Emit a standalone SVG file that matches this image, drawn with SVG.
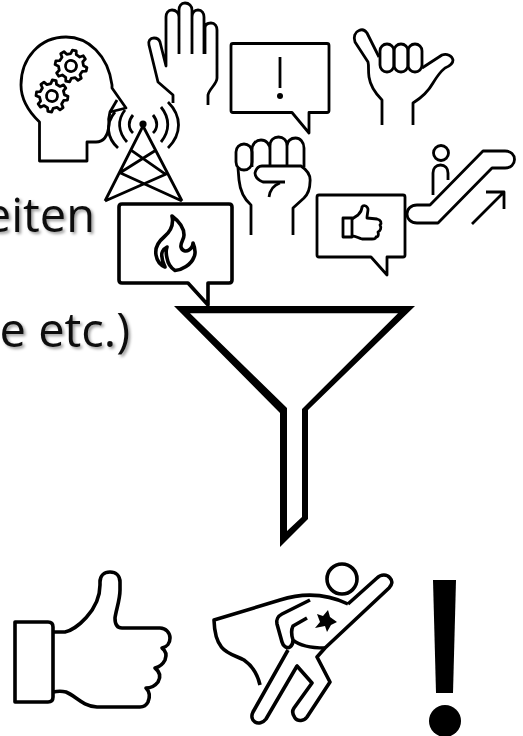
<svg xmlns="http://www.w3.org/2000/svg" width="523" height="736" viewBox="0 0 523 736">
<style>
.l{fill:none;stroke:#000;stroke-width:2.8;stroke-linejoin:round;stroke-linecap:butt}
.m{fill:none;stroke:#000;stroke-width:3.6;stroke-linejoin:round;stroke-linecap:butt}
.t{font-family:"Open Sans","Noto Sans",sans-serif;font-size:47px;fill:#111;text-anchor:end;filter:url(#sh)}
</style>
<defs>
<filter id="sh" x="-10%" y="-20%" width="125%" height="150%"><feDropShadow dx="2" dy="2" stdDeviation="1.4" flood-color="#000" flood-opacity=".4"/></filter>
<path id="gear" d="M15.88,-1.95L15.88,1.95L12.18,2.81L10.6,6.62L12.6,9.85L9.85,12.6L6.62,10.6L2.81,12.18L1.95,15.88L-1.95,15.88L-2.81,12.18L-6.62,10.6L-9.85,12.6L-12.6,9.85L-10.6,6.62L-12.18,2.81L-15.88,1.95L-15.88,-1.95L-12.18,-2.81L-10.6,-6.62L-12.6,-9.85L-9.85,-12.6L-6.62,-10.6L-2.81,-12.18L-1.95,-15.88L1.95,-15.88L2.81,-12.18L6.62,-10.6L9.85,-12.6L12.6,-9.85L10.6,-6.62L12.18,-2.81Z M5.5,0A5.5,5.5 0 1 0 -5.5,0A5.5,5.5 0 1 0 5.5,0Z"/>
</defs>
<g id="text">
<text class="t" x="95" y="232">eiten</text>
<text class="t" x="130" y="347">e etc.)</text>
</g>
<g id="head" class="l">
<path d="M39.5,122L39.5,161L87,161L87,142L96,142C104,142 108,135 109,125C108,119 110,112 110,112L126,108L112,88L112,85C108,55 88,37 66,37C40,37 21,58 21,85C21,100 29,112 39.5,122Z"/>
<path d="M117,100L110,112"/>
<use href="#gear" x="71" y="66" transform="rotate(12 71 66)"/>
<use href="#gear" x="52" y="96" transform="rotate(8 52 96)"/>
</g>
<g id="raised-hand" class="l">
<path d="M208,105L208,95C209,89 217,84 217,78L217,30C217,26 215,23 211,23C207,23 205,25 205,28L205,54M204,54L204,17C204,13 202,10 198,10C194,10 192,13 192,17L192,54M192,54L192,10C192,6 189,3 185,3C181,3 179,6 179,10L179,54M179,54L179,17C179,13 176,10 172,10C168,10 166,13 166,17L166,66L160,42C159,39 157,38 154,38C150,38 148,41 149,45L158,82L173,95L173,103"/>
</g>
<g id="tower">
<circle cx="143" cy="124" r="3.6" fill="#000"/>
<path class="l" d="M143,126L105,201M143,126L182,201M131.7,150.7L165.7,174.3L105,201M155,150.7L120,172.7L182,201"/>
<path class="l" d="M133,115C128,121 128,128 133,133M153,115C158,121 158,128 153,133M125,110C117,120 118,132 127,142M161,107C170,118 170,131 161,142M115,112C105,124 107,138 118,148M168,102C182,116 182,134 168,148"/>
</g>
<g id="bubble-alert">
<path class="l" d="M233,43.5L327,43.5Q329,43.5 329,45.5L329,110.5Q329,112.5 327,112.5L309,112.5L309,133L292,112.5L233,112.5Q231,112.5 231,110.5L231,45.5Q231,43.5 233,43.5Z"/>
<path class="l" d="M280,57L280,88"/>
<circle cx="280" cy="96" r="3" fill="#000"/>
</g>
<g id="shaka-hand" class="l">
<path d="M382,125L382,100C374,92 370,84 369,77C368,70 369,66 368,62L355,42C353,37 355,32 359,30.5C362,29 365,30 367,33L379,57"/>
<rect x="380" y="44" width="14" height="28" rx="7"/>
<rect x="394" y="44" width="14" height="28" rx="7"/>
<rect x="408" y="44" width="14" height="28" rx="7"/>
<path d="M422,68L442,55C447,53 452,56 453,60C453,64 450,66 445,68C440,72 436,78 433,83C428,92 421,98 413,103L413,125"/>
</g>
<g id="fist" class="l">
<path d="M251,235L251,205C244,199 240,190 239,180L238,168"/>
<rect x="236" y="144" width="16" height="26" rx="8"/>
<path d="M252,167L252,150C252,144 256,140 261,140C266,140 270,144 270,150L270,166M270,166L270,146C270,140 274,137 278.5,137C283,137 287,140 287,146L287,165M287,165L287,146C287,141 291,138 295.5,138C300,138 304,142 304,148L304,167"/>
<path d="M285,182L263,182C258,180 255,177 255,173C256,169 258,166 262,166L301,166C307,170 311,175 310,182C310,188 308,194 304,198L293,208L293,235"/>
<path d="M280,183C274,185 270,190 269,197"/>
</g>
<g id="bubble-fire">
<path class="m" d="M122,204L229,204Q232,204 232,207L232,280Q232,283 229,283L208,283L208,305L188,283L122,283Q119,283 119,280L119,207Q119,204 122,204Z"/>
<path class="m" d="M172,216C180,222 184,229 184,235C184,240 180,243 181,247C182,251 186,252 189,250C192,248 193,246 193,243C195,248 196,253 194,257C191,265 182,270 175,270.5C171,268 168,264 167,258C166,254 166,250 167,247C163,249 161,253 162,257C162,261 164,264 165,267C160,265 157,261 156,255C155,249 158,242 164,237C170,232 174,225 172,216Z"/>
</g>
<g id="bubble-thumb">
<path class="l" d="M319,195L403,195Q405,195 405,197L405,255Q405,257 403,257L387,257L387,275L371,257L319,257Q317,257 317,255L317,197Q317,195 319,195Z"/>
<path class="l" d="M343,218L352,218L352,237L343,237Z"/>
<path class="l" d="M352,219L358,215C361,212 362,210 362,207C363,205 367,205 368,209C368,212 367,215 367,218L377,219C381,220 382,223 380,225C382,228 380,231 378,232C379,235 378,237 376,237C376,239 374,239 372,239L362,239C358,238 356,236 352,236"/>
</g>
<g id="escalator" class="l">
<path d="M430,205L483,151L505,151C511,151 514.5,155 514.5,159.5C514.5,164 511,168 505,168L492,168L438,223L417,223C411,223 407,219 407,214C407,209 411,205 417,205Z"/>
<circle cx="441" cy="153" r="7.5"/>
<path d="M433,195L433,173C433,168 436,165 440.5,165C445,165 448,168 448,173L448,180"/>
<path d="M472,224L504,192M486,192L504,192L504,209"/>
</g>
<path id="funnel" fill="#000" fill-rule="evenodd" d="M174,306L415,306L308,410L308,519L280,547L280,413Z M190,313.3L398,313.3L302,409L302,517L287,531L287,408Z"/>
<g id="thumbs-up" class="m">
<path d="M15,622L48,622Q53,622 53,627L53,697Q53,702 48,702L15,702Z"/>
<path d="M53,632L65,632C75,630 100,611 100,585L100,582C100,576 104,572 110,572C116,572 120,576 120,582L120,590C120,600 116,610 115,618C115,624 117,628 122,628L160,628C166,628 170,633 170,638C170,643 167,647 162,648C166,651 167,655 165,660C163,664 159,667 155,668C160,672 161,677 158,682C155,686 151,688 146,688C150,692 150,697 148,702C146,706 143,707 140,707L97,707C82,706 76,696 66,692C62,691 58,691 53,692"/>
</g>
<g id="superhero" class="m">
<circle cx="342" cy="579" r="15"/>
<path d="M260,685C258,676 254,667 244,660C232,653 215,655 214,620L280,600C302,593 325,593 348,604"/>
<path d="M348,604L377,578C381,574 387,574 390,578C393,581 392,585 389,588L325,648L317,657L330,682L307,717C304,721 298,722 295,718C292,714 292,711 294,708L312,683L297,666L266,719C263,723 258,724 255,722C252,720 251,716 253,712L288,650"/>
<path d="M310,600L282,614C278,616 276,620 277,624L282,642C283,646 287,649 290,647C293,645 293,642 293,640C291,634 291,630 293,626L307,618M293,640C300,646 312,648 325,648"/>
</g>
<polygon id="star" fill="#000" points="328,610 330,617 337,622 331,625 327,632 325,626 315,628 320,622 317,614 323,616"/>
<g id="exclamation" fill="#000">
<polygon points="433,580 456,580 453,693 436,693"/>
<circle cx="445" cy="721" r="16"/>
</g>
</svg>
